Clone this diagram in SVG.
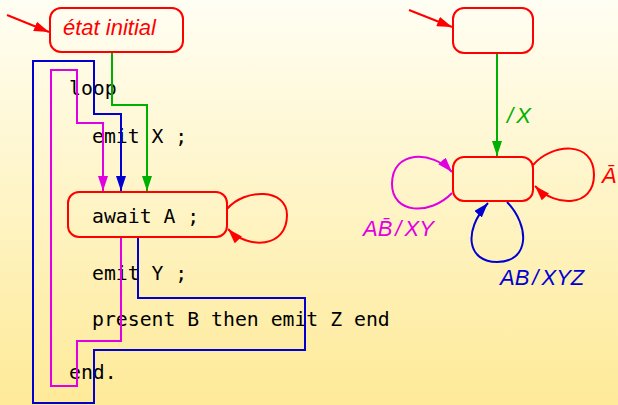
<svg xmlns="http://www.w3.org/2000/svg" width="618" height="405" viewBox="0 0 618 405">
  <defs>
    <linearGradient id="bg" x1="0" y1="0" x2="0" y2="1">
      <stop offset="0" stop-color="#fffef3"/>
      <stop offset="1" stop-color="#feea98"/>
    </linearGradient>
    <marker id="ah-red" markerUnits="userSpaceOnUse" markerWidth="16" markerHeight="10" refX="15" refY="5" orient="auto">
      <path d="M0,0 L15,5 L0,10 Z" fill="#ff0000"/>
    </marker>
    <marker id="ah-green" markerUnits="userSpaceOnUse" markerWidth="16" markerHeight="10" refX="15" refY="5" orient="auto">
      <path d="M0,0 L15,5 L0,10 Z" fill="#00b000"/>
    </marker>
    <marker id="ah-blue" markerUnits="userSpaceOnUse" markerWidth="16" markerHeight="10" refX="15" refY="5" orient="auto">
      <path d="M0,0 L15,5 L0,10 Z" fill="#0000d0"/>
    </marker>
    <marker id="ah-mag" markerUnits="userSpaceOnUse" markerWidth="16" markerHeight="10" refX="15" refY="5" orient="auto">
      <path d="M0,0 L15,5 L0,10 Z" fill="#e000e0"/>
    </marker>
  </defs>
  <style>
    .state { fill: none; stroke: #ff0000; stroke-width: 2; }
    .code { font-family: "DejaVu Sans Mono", "Liberation Mono", monospace; font-size: 19.8px; fill: #000; }
    .lbl { font-family: "Liberation Sans", Arial, sans-serif; font-style: italic; font-size: 22px; }
    .sl { font-weight: 300; }
    .red { stroke: #ff0000; }
    .green { stroke: #00b000; }
    .blue { stroke: #0000d0; }
    .mag { stroke: #e000e0; }
    .conn path { fill: none; stroke-width: 2; }
  </style>
  <rect x="0" y="0" width="618" height="405" fill="url(#bg)"/>

  <g id="code">
    <text class="code" x="69" y="95">loop</text>
    <text class="code" x="92" y="143">emit X ;</text>
    <text class="code" x="92" y="280">emit Y ;</text>
    <text class="code" x="92" y="326">present B then emit Z end</text>
    <text class="code" x="69" y="379">end.</text>
  </g>

  <g id="connectors" class="conn">
    <path class="red" d="M7,15 L49,32" marker-end="url(#ah-red)"/>
    <path class="green" d="M112,53 V105 H147 V191" marker-end="url(#ah-green)"/>
    <path class="blue" d="M138,237 V298 H305 V350 H94 V403 H33 V61 H94 V114 H121 V191" marker-end="url(#ah-blue)"/>
    <path class="mag" d="M121,237 V341 H77 V386 H51 V70 H77 V123 H103 V191" marker-end="url(#ah-mag)"/>
    <path class="red" d="M227,209 C245,188 287,188 287,215 C287,248 248,250 228,229" marker-end="url(#ah-red)"/>
    <path class="red" d="M409,10 L452,27" marker-end="url(#ah-red)"/>
    <path class="green" d="M497,53 V156" marker-end="url(#ah-green)"/>
    <path class="red" d="M533,165 C552,143 594,140 594,175 C594,207 556,208 535,186" marker-end="url(#ah-red)"/>
    <path class="mag" d="M452,193 C430,216 392,214 392,184 C392,150 432,150 452,172" marker-end="url(#ah-mag)"/>
    <path class="blue" d="M507,202 C530,226 530,262 497,262 C468,262 462,232 488,203" marker-end="url(#ah-blue)"/>
  </g>

  <g id="initial-left">
    <rect class="state" x="50" y="8" width="133" height="44" rx="11"/>
    <text class="lbl" x="63" y="35" fill="#ff0000" font-size="23">état initial</text>
  </g>
  <g id="await">
    <rect class="state" x="68" y="192" width="159" height="45" rx="11"/>
    <text class="code" x="92" y="223">await A ;</text>
  </g>
  <g id="initial-right">
    <rect class="state" x="453" y="8" width="80" height="45" rx="11"/>
  </g>
  <g id="main-right">
    <rect class="state" x="453" y="157" width="80" height="44" rx="11"/>
  </g>

  <g id="labels">
    <text class="lbl" x="507" y="123" fill="#00b000" font-size="23"><tspan class="sl">/</tspan><tspan dx="3">X</tspan></text>
    <text class="lbl" x="602" y="183" fill="#ff0000">Ā</text>
    <text class="lbl" x="363" y="236" fill="#e000e0">AB̄<tspan class="sl" dx="3">/</tspan><tspan dx="3">XY</tspan></text>
    <text class="lbl" x="500" y="285" fill="#0000d0">AB<tspan class="sl" dx="3">/</tspan><tspan dx="3">XYZ</tspan></text>
  </g>
</svg>
